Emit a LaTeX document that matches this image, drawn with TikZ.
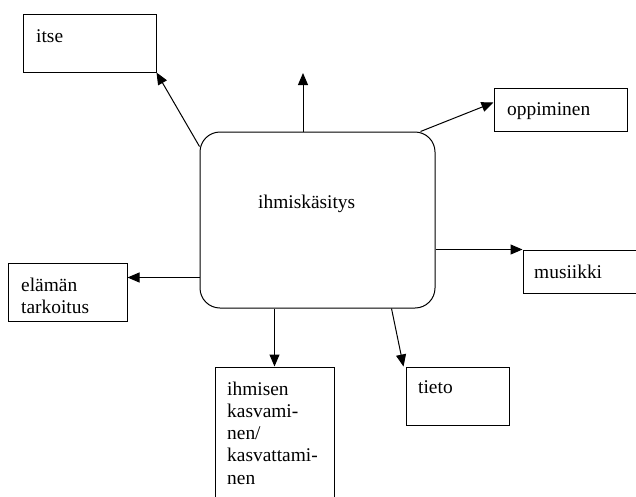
\documentclass[tikz,border=0pt]{standalone}
\usepackage{fontspec}
\setmainfont{Liberation Serif}
\usetikzlibrary{arrows.meta}

\begin{document}
\begin{tikzpicture}[x=1pt,y=-1pt]

    \tikzset{
      box/.style={
        draw,
        line width=1pt,
        inner sep=0pt,
      },
      hubbox/.style={
        box,
        rounded corners=20pt,
      },
      txt/.style={
        anchor=base west,
        inner sep=0pt,
        align=left,
        font=\fontsize{19.4}{22.3}\selectfont,
      },
      arr/.style={
        line width=1pt,
        -{Triangle[length=12pt,width=10pt]},
      },
    }
    \useasboundingbox (0,0) rectangle (636,496);
    \clip (0,0) rectangle (636,496);

	\node[hubbox, minimum width=235pt, minimum height=176pt] (hub) at (317.5,220) {};
	\node[txt] (hub-txt) at (258,208) {ihmiskäsitys};

	\node[box, minimum width=133pt, minimum height=58pt] (itse) at (89.5,43) {};
	\node[txt] (itse-txt) at (36,42) {itse};
	\node[box, minimum width=133pt, minimum height=43pt] (oppi) at (560.5,109.5) {};
	\node[txt] (oppi-txt) at (507,115) {oppiminen};
	\node[box, minimum width=137pt, minimum height=43pt] (musi) at (591.5,271.5) {};
	\node[txt] (musi-txt) at (534,278) {musiikki};
	\node[box, minimum width=119pt, minimum height=58pt] (ela) at (67.5,292) {};
	\node[txt, text width=110pt] (ela-txt) at (21,291) {elämän\\tarkoitus};
	\node[box, minimum width=119pt, minimum height=153pt] (ihm) at (274.5,443.5) {};
	\node[txt, text width=110pt] (ihm-txt) at (227,395) {ihmisen\\kasvami-\\nen/\\kasvattami-\\nen};
	\node[box, minimum width=103pt, minimum height=58pt] (tieto) at (457.5,396) {};
	\node[txt] (tieto-txt) at (418,393) {tieto};

	\coordinate (up) at (303,73);

	\draw[arr] ([shift={(0,15)}]hub.north west) -- (itse.south east);
	\draw[arr] (up |- hub.north) -- (up);
	\draw[arr] ([shift={(-15,0)}]hub.north east) -- ([shift={(0,15)}]oppi.north west);
	\draw[arr] (hub.east |- musi.north west) -- (musi.north west);
	\draw[arr] (hub.west |- ela.north east) ++(0,15) -- ([shift={(0,15)}]ela.north east);
	\draw[arr] (ihm.north |- hub.south) -- (ihm.north);
	\draw[arr] ([shift={(-44,0)}]hub.south east) -- ([shift={(-2,0)}]tieto.north west);

\end{tikzpicture}
\end{document}
